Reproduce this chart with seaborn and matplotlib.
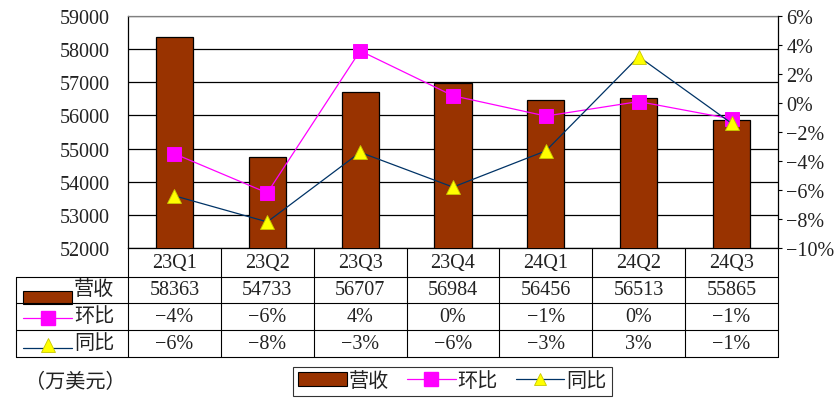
import matplotlib
matplotlib.use('Agg')
import matplotlib.pyplot as plt
import seaborn as sns
import pandas as pd
from matplotlib.lines import Line2D
from matplotlib.patches import Patch, Rectangle

# ---------------- data ----------------
quarters = ['23Q1', '23Q2', '23Q3', '23Q4', '24Q1', '24Q2', '24Q3']
revenue = [58363, 54733, 56707, 56984, 56456, 56513, 55865]
qoq = [-3.5, -6.2, 3.6, 0.5, -0.9, 0.1, -1.1]      # 环比 (%)
yoy = [-6.4, -8.2, -3.4, -5.8, -3.3, 3.2, -1.4]    # 同比 (%)
left_ticks = [52000, 53000, 54000, 55000, 56000, 57000, 58000, 59000]
right_ticks = [-10, -8, -6, -4, -2, 0, 2, 4, 6]
unit_label = '（万美元）'
series_names = ['营收', '环比', '同比']

BAR_C = '#993300'
QOQ_C = '#FF00FF'
YOY_C = '#003366'
TRI_C = '#FFFF00'
FS = 14.5

sns.set_theme(style='white')
plt.rcParams['font.family'] = ['Liberation Serif', 'Noto Sans CJK SC', 'DejaVu Sans']


def pct(v):
    r = int(round(v))
    s = f"{abs(r)}%"
    return ('\u2212' + s) if r < 0 else s


W, H = 839, 410
fig = plt.figure(figsize=(W / 100, H / 100), dpi=100)
L, R, T, B = 128, 778, 17, 249


def fx(px):
    return px / W


def fy(py):
    return 1 - py / H


ax = fig.add_axes([fx(L), fy(B), (R - L) / W, (B - T) / H])
df = pd.DataFrame({'季度': quarters, '营收': revenue, '环比': qoq, '同比': yoy})

sns.barplot(data=df, x='季度', y='营收', color=BAR_C, edgecolor='black',
            linewidth=0.9, width=0.4, saturation=1, ax=ax, zorder=3)
ax.set_ylim(left_ticks[0], left_ticks[-1])
ax.set_yticks(left_ticks)
ax.set_yticklabels([str(v) for v in left_ticks], fontsize=FS)
ax.yaxis.grid(True, color='black', linewidth=0.9)
ax.set_axisbelow(True)
ax.tick_params(axis='y', length=0, pad=13, colors='#222222')
ax.tick_params(axis='x', length=0, labelbottom=False)
ax.set_xlabel('')
ax.set_ylabel('')
for side in ['left', 'bottom']:
    ax.spines[side].set_color('black')
    ax.spines[side].set_linewidth(0.9)
ax.spines['top'].set_color('#808080')
ax.spines['top'].set_linewidth(0.9)
ax.spines['right'].set_visible(False)

ax2 = ax.twinx()
sns.pointplot(data=df, x='季度', y='环比', ax=ax2, color=QOQ_C, marker='s',
              markersize=10.5, linewidth=0.9, errorbar=None)
sns.pointplot(data=df, x='季度', y='同比', ax=ax2, color=YOY_C, marker='^',
              markersize=9.5, linewidth=0.9, errorbar=None,
              markerfacecolor=TRI_C, markeredgecolor='#c8c800', markeredgewidth=0.6)
ax2.set_ylim(right_ticks[0], right_ticks[-1])
ax2.set_yticks(right_ticks)
ax2.set_yticklabels([pct(v) for v in right_ticks], fontsize=FS)
ax2.tick_params(axis='y', length=3, width=0.8, pad=3, colors='#222222', direction='out')
ax2.tick_params(axis='y', color='black')
ax2.set_xlabel('')
ax2.set_ylabel('')
for side in ['top', 'left', 'bottom']:
    ax2.spines[side].set_visible(False)
ax2.spines['right'].set_color('black')
ax2.spines['right'].set_linewidth(0.9)
ax.set_xlim(-0.5, len(quarters) - 0.5)
ax2.set_xlim(-0.5, len(quarters) - 0.5)
ax2.tick_params(axis='x', length=0, labelbottom=False)

# ---------------- data table ----------------
TL = 16
rows_y = [249, 278, 304, 331, 358]
n = len(quarters)
xs = [L + i * (R - L) / n for i in range(n + 1)]
LW = 0.8


def hline(y, x0, x1):
    fig.add_artist(Line2D([fx(x0), fx(x1)], [fy(y), fy(y)], color='black', lw=LW))


def vline(x, y0, y1):
    fig.add_artist(Line2D([fx(x), fx(x)], [fy(y0), fy(y1)], color='black', lw=LW))


for y in rows_y[1:]:
    hline(y, TL, R)
for x in xs:
    vline(x, rows_y[0], rows_y[-1])
vline(TL, rows_y[1], rows_y[-1])

centers = [(rows_y[i] + rows_y[i + 1]) / 2 for i in range(4)]
row_texts = [quarters, [str(v) for v in revenue], [pct(v) for v in qoq], [pct(v) for v in yoy]]
for r, texts in enumerate(row_texts):
    for i, t in enumerate(texts):
        cx = (xs[i] + xs[i + 1]) / 2
        fig.text(fx(cx), fy(centers[r]), t, ha='center', va='center', fontsize=FS, color='#222222')

# row headers with glyphs
gx0, gx1 = 23, 72
fig.add_artist(Rectangle((fx(gx0), fy(305)), (gx1 - gx0) / W, 13 / H,
                         facecolor=BAR_C, edgecolor='black', lw=0.8))
fig.add_artist(Line2D([fx(gx0), fx(gx1)], [fy(centers[2] + 1)] * 2, color=QOQ_C, lw=0.9))
fig.add_artist(Line2D([fx((gx0 + gx1) / 2)], [fy(centers[2] + 1)], color=QOQ_C, marker='s',
                      markersize=10, lw=0))
fig.add_artist(Line2D([fx(gx0), fx(gx1)], [fy(centers[3] + 4)] * 2, color=YOY_C, lw=0.9))
fig.add_artist(Line2D([fx((gx0 + gx1) / 2)], [fy(centers[3] + 1)], color=YOY_C, marker='^',
                      markersize=10, lw=0, markerfacecolor=TRI_C, markeredgecolor='#c8c800',
                      markeredgewidth=0.6))
for r in range(3):
    fig.text(fx(gx1 + 2), fy(centers[r + 1]), series_names[r], ha='left', va='center',
             fontsize=FS, color='#222222', fontweight='light')

# unit label
fig.text(fx(25), fy(383), unit_label, ha='left', va='center', fontsize=FS, color='#222222',
         fontweight='light')

# legend
handles = [Patch(facecolor=BAR_C, edgecolor='black', lw=0.8),
           Line2D([], [], color=QOQ_C, marker='s', markersize=10, lw=0.9),
           Line2D([], [], color=YOY_C, marker='^', markersize=9, lw=0.9,
                  markerfacecolor=TRI_C, markeredgecolor='#c8c800', markeredgewidth=0.6)]
leg = fig.legend(handles=handles, labels=series_names, loc='center',
                 bbox_to_anchor=(fx(452.5), fy(382.5)), ncol=3, frameon=True,
                 fancybox=False, edgecolor='black', handlelength=2.4, handletextpad=0.1,
                 columnspacing=0.9, borderpad=0.25, fontsize=FS, borderaxespad=0,
                 prop={'weight': 'light', 'size': FS})
leg.get_frame().set_linewidth(0.8)
for t in leg.get_texts():
    t.set_color('#222222')

fig.savefig('out.png', dpi=100)
